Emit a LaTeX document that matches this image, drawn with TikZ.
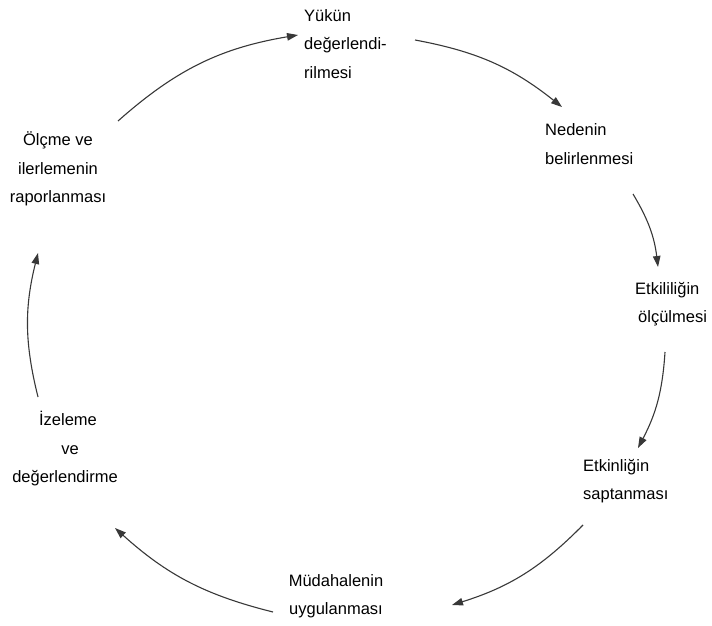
\documentclass[tikz,border=0pt]{standalone}
\usepackage{fontspec}
\setmainfont{Liberation Sans}
\usetikzlibrary{arrows.meta}
\begin{document}
\begin{tikzpicture}[x=1bp,y=-1bp,
  lbl/.style={inner sep=0pt, font=\fontsize{16.5bp}{28.5bp}\selectfont, text=black},
  cyc/.style={draw=black!78, line width=1.1bp, -{Triangle[length=11bp,width=7.5bp]}}]
\useasboundingbox (0,0) rectangle (712,626);
\node[lbl, align=left, anchor=west] (n1) at (304,44) {Yükün\\değerlendi-\\rilmesi};
\node[lbl, align=left, anchor=west] (n2) at (545,144) {Nedenin\\belirlenmesi};
\node[lbl, align=left, anchor=west] (n3) at (635,304) {Etkililiğin\\\hspace{3bp}ölçülmesi};
\node[lbl, align=left, anchor=west] (n4) at (583,481) {Etkinliğin\\saptanması};
\node[lbl, align=center] (n5) at (336,596) {Müdahalenin\\uygulanması};
\node[lbl, align=center] (n6) at (65,449) {\hspace{6bp}İzeleme\\\hspace{10bp}ve\\değerlendirme};
\node[lbl, align=center] (n7) at (58,169) {Ölçme ve\\ilerlemenin\\raporlanması};
\coordinate (a1s) at (118,121); \coordinate (a1e) at (298,35);
\coordinate (a2s) at (415,40);  \coordinate (a2e) at (562,107);
\coordinate (a3s) at (633,194); \coordinate (a3e) at (658,267);
\coordinate (a4s) at (665,352); \coordinate (a4e) at (638,448);
\coordinate (a5s) at (583,525); \coordinate (a5e) at (452,605);
\coordinate (a6s) at (273,612); \coordinate (a6e) at (115,528);
\coordinate (a7s) at (38,397);  \coordinate (a7e) at (38,253);
\draw[cyc] (a1s) to[bend left=16] (a1e);
\draw[cyc] (a2s) to[bend left=14] (a2e);
\draw[cyc] (a3s) to[bend left=12] (a3e);
\draw[cyc] (a4s) to[bend left=12] (a4e);
\draw[cyc] (a5s) to[bend left=14] (a5e);
\draw[cyc] (a6s) to[bend left=14] (a6e);
\draw[cyc] (a7s) to[bend left=14] (a7e);
\end{tikzpicture}
\end{document}
